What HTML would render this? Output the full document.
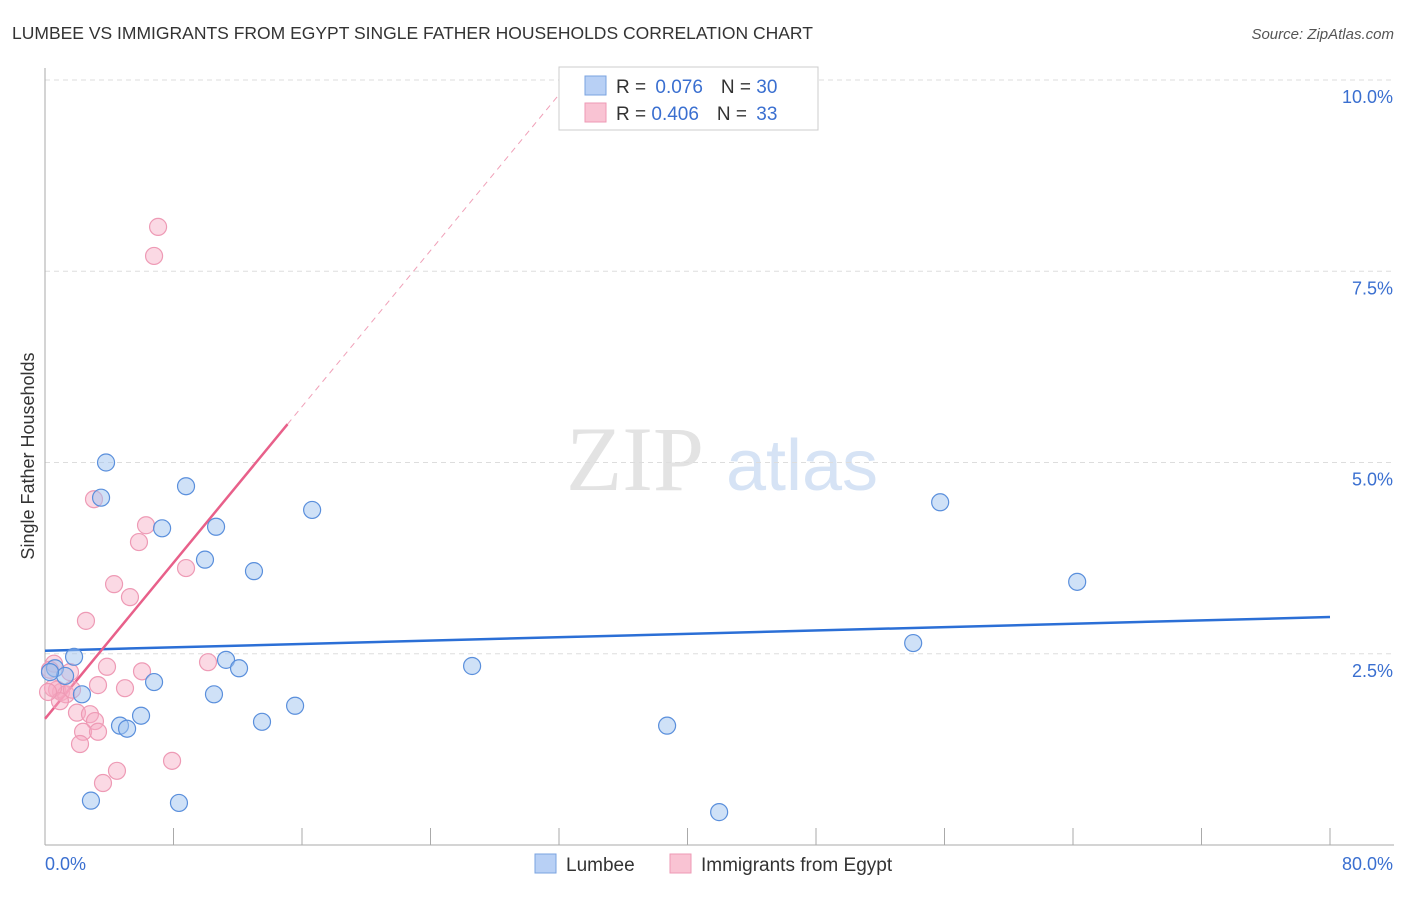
<!DOCTYPE html>
<html><head><meta charset="utf-8"><style>
body{margin:0;background:#fff;font-family:"Liberation Sans",sans-serif;}
svg text{font-family:"Liberation Sans",sans-serif;}
</style></head><body>
<svg id="chart" width="1406" height="892" xmlns="http://www.w3.org/2000/svg">
<text x="12" y="39" font-size="17.5" fill="#333">LUMBEE VS IMMIGRANTS FROM EGYPT SINGLE FATHER HOUSEHOLDS CORRELATION CHART</text>
<text x="1394" y="39" font-size="15" fill="#555" text-anchor="end" font-style="italic">Source: ZipAtlas.com</text>
<g>
<text x="635" y="490" font-size="92" fill="#e3e3e3" text-anchor="middle" font-family="Liberation Serif,serif" style="font-family:'Liberation Serif',serif">ZIP</text>
<text x="802" y="490" font-size="72" fill="#d6e3f5" text-anchor="middle">atlas</text>
</g>
<g id="grid"></g>
<g id="axes"></g>
<g id="marks"></g>
<text transform="translate(34,456) rotate(-90)" font-size="18" fill="#333" text-anchor="middle">Single Father Households</text>
<g>
<rect x="559" y="67" width="259" height="63" fill="#fff" stroke="#ccc"/>
<rect x="585" y="76" width="21" height="19" fill="#b8d0f5" stroke="#7aa3e0"/>
<rect x="585" y="103" width="21" height="19" fill="#f9c3d3" stroke="#ee9ab5"/>
<text x="616" y="93" font-size="19" fill="#333">R = <tspan fill="#3a6fd0" dx="4">0.076</tspan><tspan dx="18" fill="#333">N = </tspan><tspan fill="#3a6fd0">30</tspan></text>
<text x="616" y="120" font-size="19" fill="#333">R = <tspan fill="#3a6fd0">0.406</tspan><tspan dx="18" fill="#333">N = </tspan><tspan fill="#3a6fd0" dx="4">33</tspan></text>
</g>
<g>
<rect x="535" y="854" width="21" height="19" fill="#b8d0f5" stroke="#7aa3e0"/>
<text x="566" y="871" font-size="19" fill="#333">Lumbee</text>
<rect x="670" y="854" width="21" height="19" fill="#f9c3d3" stroke="#ee9ab5"/>
<text x="701" y="871" font-size="19" fill="#333">Immigrants from Egypt</text>
</g>
</svg>
<script>
const xTicks=[0,10,20,30,40,50,60,70,80];
const yTicks=[2.5,5.0,7.5,10.0];
const yTickLabels=["2.5%","5.0%","7.5%","10.0%"];
const xEndLabels=["0.0%","80.0%"];
const lumbeeX=[3.80,3.49,8.78,7.29,10.65,16.63,9.96,13.01,6.79,11.27,12.08,10.52,2.30,1.81,0.62,1.25,13.51,15.57,5.98,4.67,5.11,2.86,8.34,26.59,38.73,54.05,55.73,64.26,41.97,0.31];
const lumbeeY=[5.00,4.54,4.69,4.14,4.16,4.38,3.73,3.58,2.13,2.42,2.31,1.97,1.97,2.46,2.31,2.21,1.61,1.82,1.69,1.56,1.52,0.58,0.55,2.34,1.56,2.64,4.48,3.44,0.43,2.26];
const egyptX=[7.04,6.79,3.05,6.29,5.85,8.78,4.30,5.29,2.55,3.86,6.04,10.15,0.56,1.56,1.00,3.30,4.98,0.75,1.31,0.50,0.93,1.99,2.80,3.11,2.37,3.30,2.18,7.91,4.48,3.61,0.31,1.68,0.19];
const egyptY=[8.08,7.70,4.52,4.18,3.96,3.62,3.41,3.24,2.93,2.33,2.27,2.39,2.37,2.26,2.00,2.09,2.05,2.03,1.97,2.05,1.88,1.73,1.71,1.62,1.48,1.48,1.32,1.10,0.97,0.81,2.29,2.03,2.00];
const lumbeeTrend=[2.54,0.0055];
const egyptTrend=[1.65,0.255];
const egyptSolidEnd=15.1, egyptDashEnd=32.3;
const NS="http://www.w3.org/2000/svg";
const X=v=>45+v*(1285/80);
const Y=v=>845-v*76.5;
function mk(tag,attrs,parent){const e=document.createElementNS(NS,tag);for(const k in attrs)e.setAttribute(k,attrs[k]);parent.appendChild(e);return e;}
const grid=document.getElementById('grid'),axes=document.getElementById('axes'),marks=document.getElementById('marks');
yTicks.forEach((t,i)=>{
 const l=mk('line',{x1:45,x2:1394,y1:Y(t),y2:Y(t),stroke:'#ddd','stroke-dasharray':'5,4'},grid);
 
 
 const tx=mk('text',{x:1393,y:Y(t)+23,'font-size':18,fill:'#3a6fd0','text-anchor':'end'},axes);
 tx.textContent=yTickLabels[i];
 
 
});
const ax=mk('line',{x1:45,x2:45,y1:68,y2:845,stroke:'#aaa'},axes);


const bx=mk('line',{x1:45,x2:1394,y1:845,y2:845,stroke:'#aaa'},axes);


for(let v=0;v<=80;v+=8){
 const t=mk('line',{x1:X(v),x2:X(v),y1:828,y2:845,stroke:'#aaa'},axes);
 
 
}
const xl0=mk('text',{x:45,y:870,'font-size':18,fill:'#3a6fd0'},axes);
xl0.textContent=xEndLabels[0];


const xl1=mk('text',{x:1393,y:870,'font-size':18,fill:'#3a6fd0','text-anchor':'end'},axes);
xl1.textContent=xEndLabels[1];


// trends
const lt=mk('line',{x1:X(0),y1:Y(lumbeeTrend[0]),x2:X(80),y2:Y(lumbeeTrend[0]+lumbeeTrend[1]*80),stroke:'#2b6fd6','stroke-width':2.5},marks);


const ed=mk('line',{x1:X(egyptSolidEnd),y1:Y(egyptTrend[0]+egyptTrend[1]*egyptSolidEnd),x2:X(egyptDashEnd),y2:Y(egyptTrend[0]+egyptTrend[1]*egyptDashEnd),stroke:'#f0a0b8','stroke-width':1,'stroke-dasharray':'6,5'},marks);


const es=mk('line',{x1:X(0),y1:Y(egyptTrend[0]),x2:X(egyptSolidEnd),y2:Y(egyptTrend[0]+egyptTrend[1]*egyptSolidEnd),stroke:'#e8608a','stroke-width':2.5},marks);


egyptX.forEach((x,i)=>{
 const c=mk('circle',{cx:X(x),cy:Y(egyptY[i]),r:8.5,fill:'rgba(246,170,195,0.45)',stroke:'#ee9ab5','stroke-width':1.2},marks);
 
 
});
lumbeeX.forEach((x,i)=>{
 const c=mk('circle',{cx:X(x),cy:Y(lumbeeY[i]),r:8.5,fill:'rgba(160,195,240,0.5)',stroke:'#5a8fdc','stroke-width':1.2},marks);
 
 
});
</script>
</body></html>
